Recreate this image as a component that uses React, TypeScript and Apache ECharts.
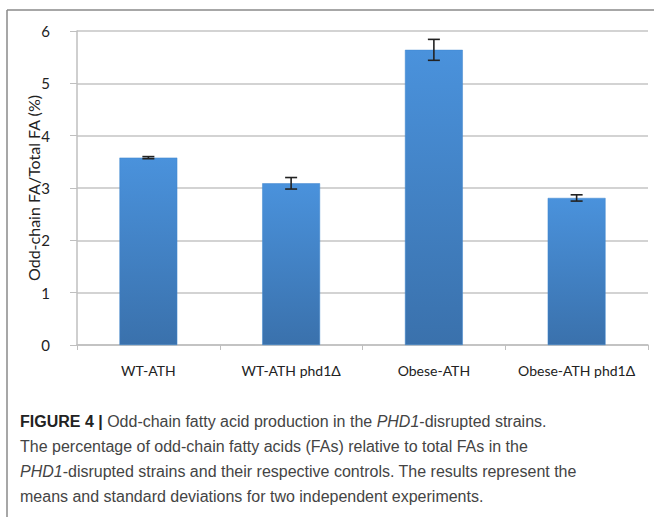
import React, { useEffect, useRef } from "react";
import * as echarts from "echarts";

const categories = ["WT-ATH", "WT-ATH phd1Δ", "Obese-ATH", "Obese-ATH phd1Δ"];
const values = [3.58, 3.09, 5.64, 2.81];
const errors = [0.02, 0.11, 0.2, 0.06];
const yAxisName = "Odd-chain FA/Total FA (%)";
const captionLines = [
  [
    { t: "FIGURE 4 |", s: "b" },
    { t: " Odd-chain fatty acid production in the ", s: "n" },
    { t: "PHD1", s: "i" },
    { t: "-disrupted strains.", s: "n" },
  ],
  [{ t: "The percentage of odd-chain fatty acids (FAs) relative to total FAs in the", s: "n" }],
  [
    { t: "PHD1", s: "i" },
    { t: "-disrupted strains and their respective controls. The results represent the", s: "n" },
  ],
  [{ t: "means and standard deviations for two independent experiments.", s: "n" }],
];

export default function App() {
  const ref = useRef<HTMLDivElement>(null);
  useEffect(() => {
    if (!ref.current) return;
    const chart = echarts.init(ref.current, null, { renderer: "svg" });
    const capFont = "'Liberation Sans', Arial, sans-serif";
    const rich = {
      b: { fontFamily: capFont, fontWeight: "bold", fontSize: 16, fill: "#222", color: "#222" },
      n: { fontFamily: capFont, fontSize: 16, fill: "#444", color: "#444" },
      i: { fontFamily: capFont, fontStyle: "italic", fontSize: 16, fill: "#444", color: "#444" },
    };
    const lineY = [422, 447, 472, 497];
    const captionGraphics = captionLines.map((parts, i) => ({
      type: "text",
      left: 20,
      top: lineY[i] - 9,
      style: {
        text: parts.map((p) => `{${p.s}|${p.t}}`).join(""),
        rich,
        fontSize: 16,
        fontFamily: capFont,
      },
    }));
    const chartFont = "Lato, 'Open Sans', sans-serif";
    chart.setOption({
      animation: false,
      backgroundColor: "#fff",
      grid: { left: 77, right: 6, top: 31, bottom: 172, containLabel: false },
      xAxis: {
        type: "category",
        data: categories,
        axisLine: { lineStyle: { color: "#bfbfbf", width: 1.5 } },
        axisTick: { show: true, length: 5, lineStyle: { color: "#bfbfbf", width: 1 } },
        axisLabel: { color: "#222", fontSize: 14, fontFamily: chartFont, margin: 18, interval: 0 },
      },
      yAxis: {
        type: "value",
        min: 0,
        max: 6,
        interval: 1,
        name: yAxisName,
        nameLocation: "middle",
        nameGap: 36,
        nameMoveOverlap: false,
        nameTextStyle: { color: "#222", fontSize: 16, fontFamily: chartFont },
        axisLine: { show: true, lineStyle: { color: "#bfbfbf", width: 1.5 } },
        axisTick: { show: true, inside: false, length: 7, lineStyle: { color: "#bfbfbf", width: 1 } },
        axisLabel: { color: "#222", fontSize: 15, fontFamily: chartFont, margin: 27 },
        splitLine: { show: true, lineStyle: { color: "#c4c4c4", width: 1.5 } },
      },
      series: [
        {
          type: "bar",
          data: values,
          barWidth: "40.5%",
          itemStyle: {
            color: new echarts.graphic.LinearGradient(0, 0, 0, 1, [
              { offset: 0, color: "#4a92dc" },
              { offset: 1, color: "#3a71ac" },
            ]),
            borderColor: "#3f86cf",
            borderWidth: 0.5,
          },
        },
        {
          type: "custom",
          data: values.map((v, i) => [i, v - errors[i], v + errors[i]]),
          renderItem: (params: any, api: any) => {
            const x = api.value(0);
            const lo = api.coord([x, api.value(1)]);
            const hi = api.coord([x, api.value(2)]);
            const hw = 6;
            const style = { stroke: "#222", lineWidth: 1.6 };
            return {
              type: "group",
              children: [
                { type: "line", shape: { x1: lo[0], y1: lo[1], x2: hi[0], y2: hi[1] }, style },
                { type: "line", shape: { x1: hi[0] - hw, y1: hi[1], x2: hi[0] + hw, y2: hi[1] }, style },
                { type: "line", shape: { x1: lo[0] - hw, y1: lo[1], x2: lo[0] + hw, y2: lo[1] }, style },
              ],
            };
          },
          z: 10,
        },
      ],
      graphic: [
        { type: "line", shape: { x1: 7, y1: 10, x2: 654, y2: 10 }, style: { stroke: "#8a8a8a", lineWidth: 1.5 } },
        { type: "line", shape: { x1: 7, y1: 10, x2: 7, y2: 517 }, style: { stroke: "#8a8a8a", lineWidth: 1.5 } },
        ...captionGraphics,
      ],
    });
    return () => chart.dispose();
  }, []);
  return <div ref={ref} style={{ width: 654, height: 517, position: "absolute", left: 0, top: 0 }} />;
}
